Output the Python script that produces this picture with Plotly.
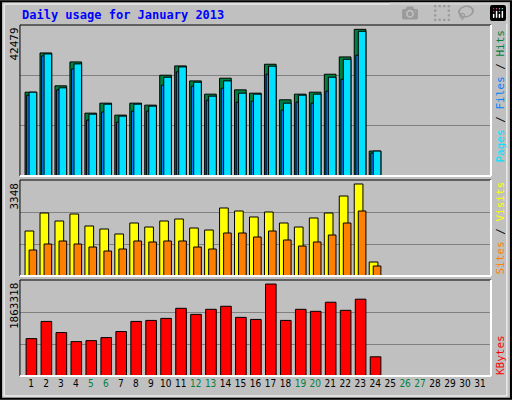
import plotly.graph_objects as go

days = list(range(1, 32))
hits = [23580, 34620, 25360, 32090, 17680, 20490, 17120, 20490, 19930, 28350, 30970, 26760, 23020, 27510, 24230, 23300, 31440, 21430, 23020, 23580, 28630, 33500, 41260, 7020]
files = [23580, 34340, 24800, 31530, 17400, 20210, 16840, 20210, 19650, 27790, 30690, 26390, 22460, 26760, 23300, 23020, 30880, 20490, 22740, 23020, 27790, 32840, 40700, 7020]
pages = [22740, 33780, 24230, 30130, 15720, 17970, 15160, 18250, 18250, 25540, 29290, 25260, 21330, 24700, 20770, 21050, 28630, 18530, 20770, 20490, 23860, 27230, 33970, 6460]
visits = [1569, 2197, 1918, 2162, 1744, 1639, 1465, 1848, 1709, 1918, 1988, 1674, 1604, 2372, 2267, 2058, 2232, 1848, 1709, 2023, 2197, 2790, 3209, 488]
sites = [907, 1116, 1221, 1116, 1011, 872, 942, 1221, 1186, 1221, 1221, 1011, 942, 1500, 1500, 1360, 1569, 1256, 1046, 1186, 1430, 1848, 2267, 349]
kbytes = [725700, 1059200, 843400, 666900, 686500, 745300, 863000, 1059200, 1078800, 1118000, 1314100, 1196500, 1294500, 1353400, 1137600, 1098400, 1784900, 1078800, 1294500, 1255300, 1431800, 1274900, 1490700, 372700]
weekend = [5, 6, 12, 13, 19, 20, 26, 27]
max_hits, max_visits, max_kb = 42479, 3348, 1863318

fig = go.Figure()
d = days[:24]
def bar(y, color, off, w, ax):
    fig.add_trace(go.Bar(x=d, y=y, offset=off, width=w, marker=dict(color=color, line=dict(color="black", width=1)),
                         xaxis="x" + ax, yaxis="y" + ax, showlegend=False, hoverinfo="skip"))

bar(hits, "#008040", -0.40, 0.78, "")
bar(pages, "#0080FF", -0.29, 0.22, "")
bar(files, "#00E0FF", -0.13, 0.51, "")
bar(visits, "#FFFF00", -0.40, 0.58, "2")
bar(sites, "#FF8000", -0.13, 0.51, "2")
bar(kbytes, "#FF0000", -0.33, 0.71, "3")

X = [0.039, 0.959]
xr = [0.26, 31.74]
tt = [f"<span style='color:#008040'>{i}</span>" if i in weekend else str(i) for i in days]
common = dict(range=xr, showgrid=False, zeroline=False, fixedrange=True)
fig.update_layout(
    width=512, height=400, margin=dict(l=0, r=0, t=0, b=0),
    paper_bgcolor="#C0C0C0", plot_bgcolor="#C0C0C0", barmode="overlay",
    font=dict(family="DejaVu Sans Mono", size=11, color="black"),
    xaxis=dict(domain=X, anchor="y", showticklabels=False, **common),
    xaxis2=dict(domain=X, anchor="y2", showticklabels=False, **common),
    xaxis3=dict(domain=X, anchor="y3", tickvals=days, ticktext=tt, ticks="", tickangle=0,
                tickfont=dict(size=10, family="DejaVu Sans Condensed"), **common),
    yaxis=dict(domain=[0.56, 0.9375], range=[0, max_hits], tickvals=[max_hits/3, 2*max_hits/3], showticklabels=False,
               gridcolor="#808080", zeroline=False, fixedrange=True),
    yaxis2=dict(domain=[0.31, 0.55], range=[0, max_visits], tickvals=[max_visits/3, 2*max_visits/3], showticklabels=False,
                gridcolor="#808080", zeroline=False, fixedrange=True),
    yaxis3=dict(domain=[0.06, 0.30], range=[0, max_kb], tickvals=[max_kb/3, 2*max_kb/3], showticklabels=False,
                gridcolor="#808080", zeroline=False, fixedrange=True),
)
shapes = [
    dict(type="rect", xref="paper", yref="paper", x0=0.002, y0=0.003, x1=0.998, y1=0.997, line=dict(color="black", width=2)),
    dict(type="rect", xref="paper", yref="paper", x0=0.008, y0=0.01, x1=0.99, y1=0.99, line=dict(color="white", width=1)),
]
for y0, y1 in [(0.56, 0.9375), (0.31, 0.55), (0.06, 0.30)]:
    shapes.append(dict(type="line", xref="paper", yref="paper", x0=X[0], x1=X[1], y0=y1, y1=y1, line=dict(color="black", width=1)))
    shapes.append(dict(type="line", xref="paper", yref="paper", x0=X[0], x1=X[0], y0=y0, y1=y1, line=dict(color="black", width=1)))
    shapes.append(dict(type="line", xref="paper", yref="paper", x0=X[0], x1=X[1], y0=y0, y1=y0, line=dict(color="white", width=2)))
    shapes.append(dict(type="line", xref="paper", yref="paper", x0=X[1], x1=X[1], y0=y0, y1=y1, line=dict(color="white", width=2)))
fig.update_layout(shapes=shapes)

ann = [
    dict(text="<b>Daily usage for January 2013</b>", x=20/512, y=1-15/400, xanchor="left", yanchor="middle",
         font=dict(color="#0000FF", size=12)),
    dict(text=f"{max_hits}", x=14/512, y=1-26/400, textangle=-90, xanchor="center", yanchor="top"),
    dict(text=f"{max_visits}", x=14/512, y=1-181/400, textangle=-90, xanchor="center", yanchor="top"),
    dict(text=f"{max_kb}", x=14/512, y=1-281/400, textangle=-90, xanchor="center", yanchor="top"),
    dict(text="<span style='color:#00E0FF'>Pages</span> / <span style='color:#0080FF'>Files</span> / <span style='color:#008040'>Hits</span>",
         x=500/512, y=1-28/400, textangle=-90, xanchor="center", yanchor="top"),
    dict(text="<span style='color:#FF8000'>Sites</span> / <span style='color:#FFFF00'>Visits</span>",
         x=500/512, y=1-277/400, textangle=-90, xanchor="center", yanchor="bottom"),
    dict(text="<span style='color:#FF0000'>KBytes</span>",
         x=500/512, y=1-377/400, textangle=-90, xanchor="center", yanchor="bottom"),
]
for a in ann:
    a.update(xref="paper", yref="paper", showarrow=False)
fig.update_layout(annotations=ann)
fig.write_html("out.html", post_script="document.body.style.margin='0';document.body.style.overflow='hidden';")
